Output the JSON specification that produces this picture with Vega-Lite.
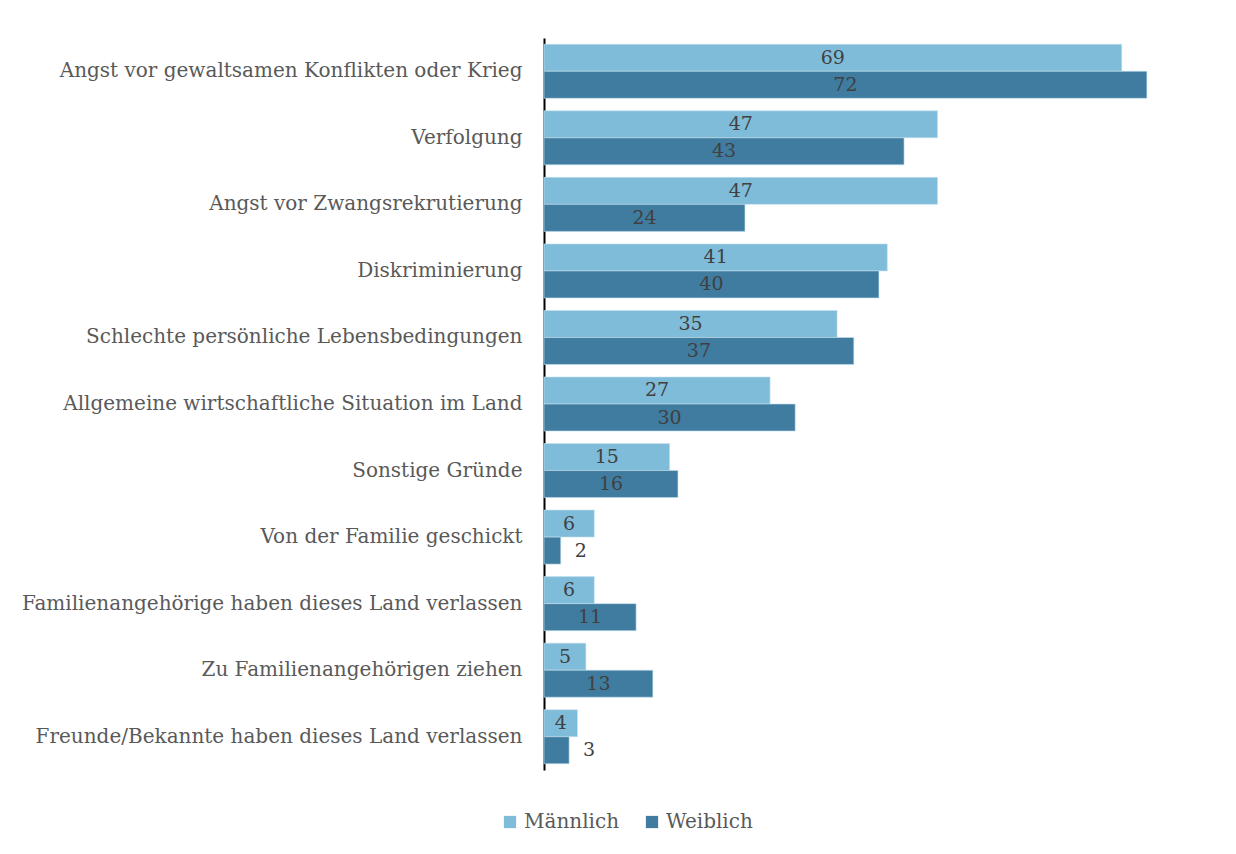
{
  "$schema": "https://vega.github.io/schema/vega-lite/v6.json",
  "width": 628,
  "height": 732,
  "autosize": "none",
  "padding": {"left": 544, "top": 38, "right": 64, "bottom": 84},
  "background": "white",
  "config": {"view": {"stroke": null}, "font": "DejaVu Serif"},
  "data": {
    "values": [
      {"cat": "Angst vor gewaltsamen Konflikten oder Krieg", "sex": "Männlich", "v": 69},
      {"cat": "Angst vor gewaltsamen Konflikten oder Krieg", "sex": "Weiblich", "v": 72},
      {"cat": "Verfolgung", "sex": "Männlich", "v": 47},
      {"cat": "Verfolgung", "sex": "Weiblich", "v": 43},
      {"cat": "Angst vor Zwangsrekrutierung", "sex": "Männlich", "v": 47},
      {"cat": "Angst vor Zwangsrekrutierung", "sex": "Weiblich", "v": 24},
      {"cat": "Diskriminierung", "sex": "Männlich", "v": 41},
      {"cat": "Diskriminierung", "sex": "Weiblich", "v": 40},
      {"cat": "Schlechte persönliche Lebensbedingungen", "sex": "Männlich", "v": 35},
      {"cat": "Schlechte persönliche Lebensbedingungen", "sex": "Weiblich", "v": 37},
      {"cat": "Allgemeine wirtschaftliche Situation im Land", "sex": "Männlich", "v": 27},
      {"cat": "Allgemeine wirtschaftliche Situation im Land", "sex": "Weiblich", "v": 30},
      {"cat": "Sonstige Gründe", "sex": "Männlich", "v": 15},
      {"cat": "Sonstige Gründe", "sex": "Weiblich", "v": 16},
      {"cat": "Von der Familie geschickt", "sex": "Männlich", "v": 6},
      {"cat": "Von der Familie geschickt", "sex": "Weiblich", "v": 2},
      {"cat": "Familienangehörige haben dieses Land verlassen", "sex": "Männlich", "v": 6},
      {"cat": "Familienangehörige haben dieses Land verlassen", "sex": "Weiblich", "v": 11},
      {"cat": "Zu Familienangehörigen ziehen", "sex": "Männlich", "v": 5},
      {"cat": "Zu Familienangehörigen ziehen", "sex": "Weiblich", "v": 13},
      {"cat": "Freunde/Bekannte haben dieses Land verlassen", "sex": "Männlich", "v": 4},
      {"cat": "Freunde/Bekannte haben dieses Land verlassen", "sex": "Weiblich", "v": 3}
    ]
  },
  "encoding": {
    "y": {
      "field": "cat", "type": "nominal", "sort": null,
      "scale": {"paddingInner": 0.188, "paddingOuter": 0.094},
      "axis": {"title": null, "labelFontSize": 20, "labelColor": "#595959", "labelPadding": 22, "ticks": false, "domainColor": "#000000", "domainWidth": 2, "labelLimit": 600}
    },
    "yOffset": {"field": "sex", "type": "nominal", "sort": ["Männlich", "Weiblich"]}
  },
  "layer": [
    {
      "mark": {"type": "bar", "stroke": "#c4e0ee", "strokeWidth": 0.6},
      "encoding": {
        "x": {"field": "v", "type": "quantitative", "scale": {"domain": [0, 75], "nice": false}, "axis": null},
        "color": {
          "field": "sex", "type": "nominal",
          "scale": {"domain": ["Männlich", "Weiblich"], "range": ["#7fbcd9", "#3f7ca0"]},
          "legend": {"title": null, "orient": "none", "legendX": -44, "legendY": 774, "direction": "horizontal", "symbolType": "square", "symbolSize": 150, "symbolStrokeWidth": 0, "labelFontSize": 20, "labelColor": "#595959", "columnPadding": 22, "labelOffset": 4}
        }
      }
    },
    {
      "transform": [{"filter": "datum.v >= 4"}, {"calculate": "datum.v / 2", "as": "mid"}],
      "mark": {"type": "text", "fontSize": 19, "color": "#404040", "baseline": "middle"},
      "encoding": {
        "x": {"field": "mid", "type": "quantitative"},
        "text": {"field": "v", "type": "quantitative"}
      }
    },
    {
      "transform": [{"filter": "datum.v < 4"}],
      "mark": {"type": "text", "fontSize": 19, "color": "#404040", "baseline": "middle", "align": "left", "dx": 14},
      "encoding": {
        "x": {"field": "v", "type": "quantitative"},
        "text": {"field": "v", "type": "quantitative"}
      }
    }
  ]
}
